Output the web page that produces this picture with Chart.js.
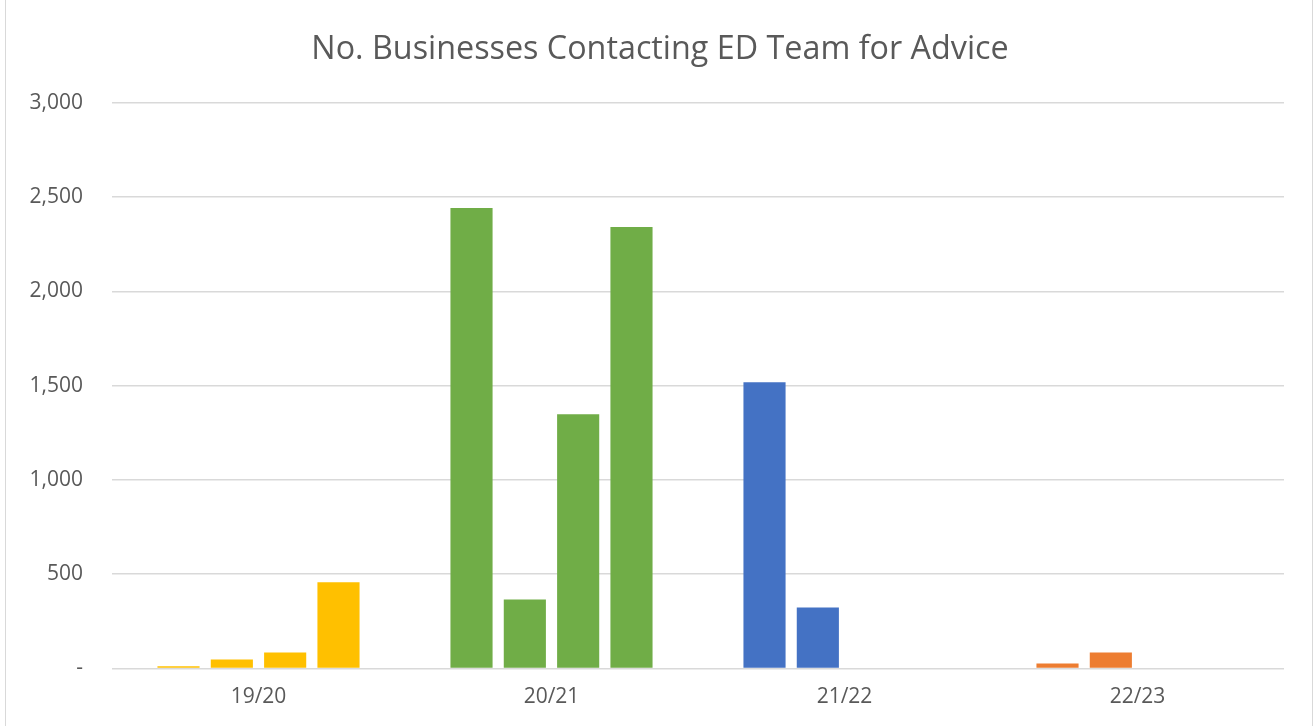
<!DOCTYPE html>
<html>
<head>
<meta charset="utf-8">
<script src="https://cdn.jsdelivr.net/npm/chart.js@4/dist/chart.umd.min.js"></script>
<style>
  html, body { margin: 0; padding: 0; background: #fff; }
  #wrap { position: relative; width: 1314px; height: 726px; }
  #wrap:before { content: ""; position: absolute; left: 5px; top: 0; bottom: 0; border-left: 1px solid #d9d9d9; }
  #wrap:after { content: ""; position: absolute; left: 1312px; top: 0; bottom: 0; border-left: 1px solid #d9d9d9; }
  canvas { display: block; }
</style>
</head>
<body>
<div id="wrap"><canvas id="c" width="1314" height="726"></canvas></div>
<script>
const categories = ["19/20", "20/21", "21/22", "22/23"];
const q1 = [12, 2443, 1519, 27];
const q2 = [48, 366, 324, 85];
const q3 = [85, 1349, 0, 0];
const q4 = [457, 2342, 0, 0];
const categoryColors = ["#ffc000", "#70ad47", "#4472c4", "#ed7d31"];
const yTicks = [0, 500, 1000, 1500, 2000, 2500, 3000];
const titleText = "No. Businesses Contacting ED Team for Advice";

const FONT = "'Open Sans', 'Noto Sans', sans-serif";
const TXT = "#595959";

const series = [q1, q2, q3, q4];
const datasets = series.map((vals, i) => ({
  label: "Q" + (i + 1),
  data: vals,
  backgroundColor: categoryColors,
  borderWidth: 0,
  categoryPercentage: 0.728,
  barPercentage: 0.79
}));

const shiftTitle = {
  id: "shiftTitle",
  afterLayout(chart) {
    if (chart.titleBlock) { chart.titleBlock.left += 36; }
  }
};

new Chart(document.getElementById("c"), {
  type: "bar",
  data: { labels: categories, datasets },
  plugins: [shiftTitle],
  options: {
    responsive: false,
    animation: false,
    layout: { padding: { left: 0, right: 30, top: 0, bottom: 0 } },
    plugins: {
      legend: { display: false },
      tooltip: { enabled: false },
      title: {
        display: true,
        text: titleText,
        color: TXT,
        font: { family: FONT, size: 32.3, weight: "normal" },
        padding: { top: 30, bottom: 34.2 }
      }
    },
    scales: {
      x: {
        grid: { display: false, drawTicks: false },
        border: { display: false },
        ticks: { color: TXT, font: { family: FONT, size: 21 }, padding: 16 },
        afterFit: (s) => { s.height = 57.5; }
      },
      y: {
        min: 0, max: 3000,
        afterBuildTicks: (s) => { s.ticks = yTicks.map(v => ({ value: v })); },
        grid: { color: "#d9d9d9", lineWidth: 1.5, drawTicks: false },
        border: { display: false },
        ticks: {
          color: TXT,
          font: { family: FONT, size: 21 },
          padding: 29,
          callback: (v) => v === 0 ? "-" : v.toLocaleString("en-US")
        },
        afterFit: (s) => { s.width = 112; }
      }
    }
  }
});
</script>
</body>
</html>
